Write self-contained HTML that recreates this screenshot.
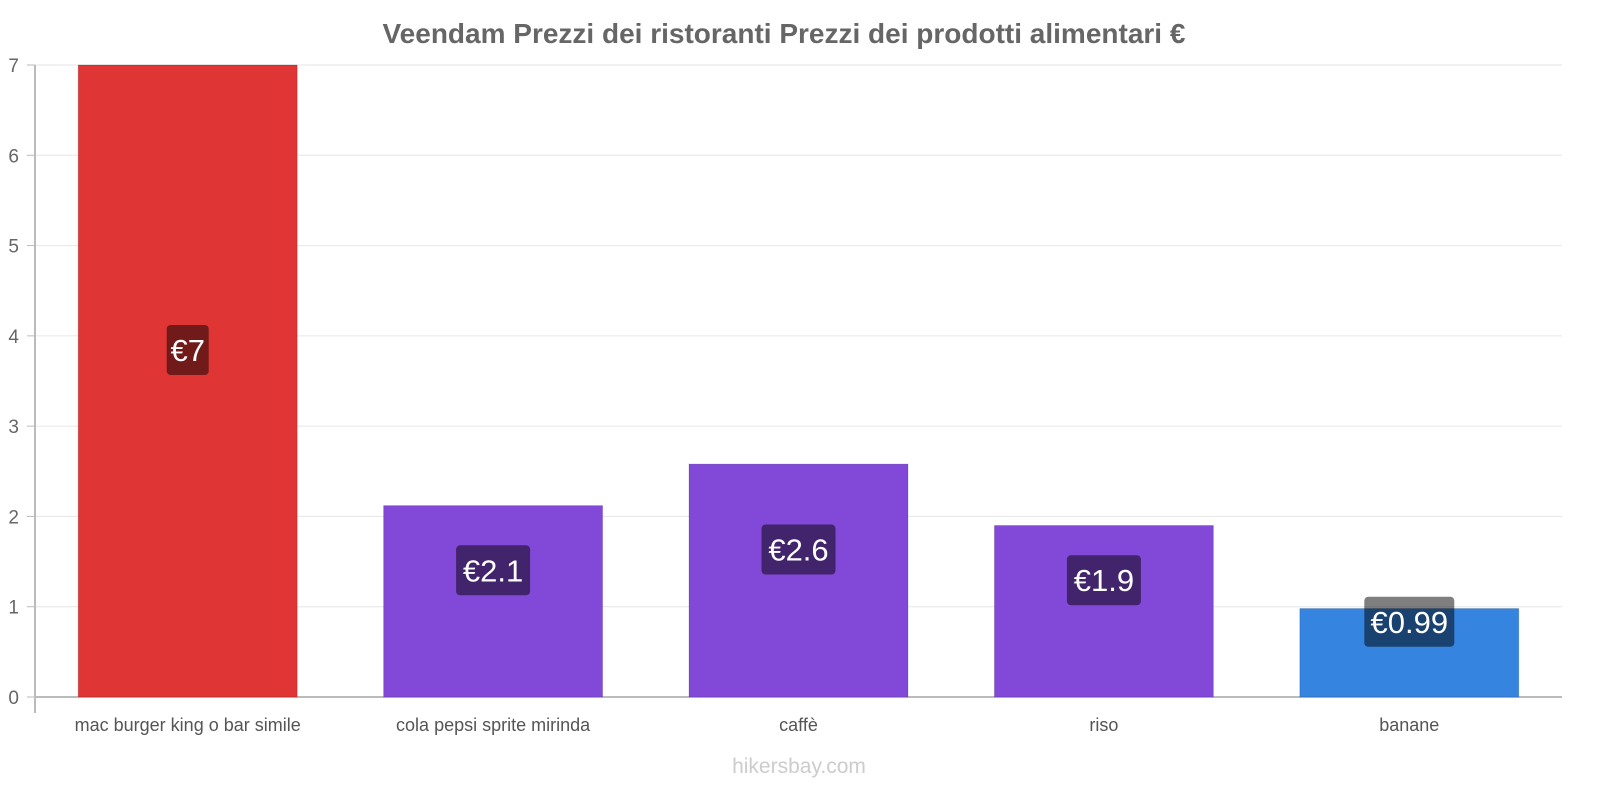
<!DOCTYPE html>
<html><head><meta charset="utf-8"><style>
body{margin:0;background:#fff;width:1600px;height:800px;overflow:hidden;font-family:"Liberation Sans",sans-serif}
</style></head><body>
<svg id="chart" width="1600" height="800" xmlns="http://www.w3.org/2000/svg" font-family="Liberation Sans, sans-serif">
<text x="784" y="43" text-anchor="middle" font-size="28" font-weight="bold" fill="#666">Veendam Prezzi dei ristoranti Prezzi dei prodotti alimentari €</text>
<g id="grid"></g><g id="bars"></g>
<text x="799" y="773" text-anchor="middle" font-size="21" fill="#ccc">hikersbay.com</text>
</svg>
<script>
const categories=["mac burger king o bar simile","cola pepsi sprite mirinda","caffè","riso","banane"];
const values=[7,2.12,2.58,1.9,0.98];
const valueLabels=["€7","€2.1","€2.6","€1.9","€0.99"];
const colors=["#e03535","#8249d8","#8249d8","#8249d8","#3584e0"];
const yTicks=[0,1,2,3,4,5,6,7];
const NS="http://www.w3.org/2000/svg";
const x0=35,x1=1562,yBase=697,yTop=65,yMax=7;
const y=v=>yBase-(v/yMax)*(yBase-yTop);
const band=(x1-x0)/categories.length;
const grid=document.getElementById('grid'),bars=document.getElementById('bars');
function mk(tag,attrs,parent){const e=document.createElementNS(NS,tag);for(const k in attrs)e.setAttribute(k,attrs[k]);parent.appendChild(e);return e;}
yTicks.forEach(t=>{
 const g=mk('line',{x1:x0,x2:x1,y1:y(t),y2:y(t),stroke:t===0?'#bbb':'#e6e6e6','stroke-width':t===0?2:1},grid);
 
 
 const tk=mk('line',{x1:27,x2:x0,y1:y(t),y2:y(t),stroke:'#bbb'},grid);
 
 
 const l=mk('text',{x:19,y:y(t)+7,'text-anchor':'end','font-size':19,fill:'#666'},grid);
 
 
 l.textContent=t;
});
const ax=mk('line',{x1:x0,x2:x0,y1:yTop,y2:713,stroke:'#bbb','stroke-width':2},grid);


const bw=219;
categories.forEach((c,i)=>{
 const cx=x0+band*(i+0.5),top=y(values[i]);
 const r=mk('rect',{x:cx-bw/2,y:top,width:bw,height:yBase-top,fill:colors[i],stroke:'rgba(0,0,0,0.15)'},bars);
 
 
 const ly=(top+yBase)/2-31;
 const w=valueLabels[i].length*16+10;
 const b=mk('rect',{x:cx-w/2,y:ly-25,width:w,height:50,rx:4,fill:'rgba(0,0,0,0.5)'},bars);
 
 
 const t=mk('text',{x:cx,y:ly+11,'text-anchor':'middle','font-size':31,fill:'#fff'},bars);
 
 
 t.textContent=valueLabels[i];
 const cl=mk('text',{x:cx,y:731,'text-anchor':'middle','font-size':18,fill:'#555'},bars);
 
 
 cl.textContent=c;
});
</script>
</body></html>
